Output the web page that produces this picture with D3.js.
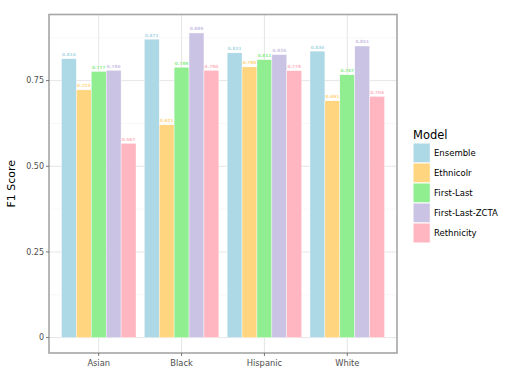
<!DOCTYPE html>
<html>
<head>
<meta charset="utf-8">
<script src="https://cdn.jsdelivr.net/npm/d3@7"></script>
<style>
  body { margin: 0; background: #fff; }
  text { font-family: "DejaVu Sans", sans-serif; }
</style>
</head>
<body>
<div id="chart"></div>
<script>
// chart data
var groups = ["Asian", "Black", "Hispanic", "White"];
var models = ["Ensemble", "Ethnicolr", "First-Last", "First-Last-ZCTA", "Rethnicity"];
var colors = ["#add8e6", "#ffd580", "#90ee90", "#cbc3e3", "#ffb6c1"];
var ensemble = [0.814, 0.871, 0.831, 0.836];
var ethnicolr = [0.723, 0.621, 0.790, 0.691];
var firstLast = [0.777, 0.789, 0.811, 0.767];
var firstLastZcta = [0.780, 0.889, 0.826, 0.851];
var rethnicity = [0.567, 0.780, 0.779, 0.704];
var yTicks = [0, 0.25, 0.5, 0.75];
var yMinor = [0.125, 0.375, 0.625, 0.875];

var series = [ensemble, ethnicolr, firstLast, firstLastZcta, rethnicity];
var rows = [];
groups.forEach(function (g, gi) {
    models.forEach(function (m, mi) {
	rows.push({ group: g, model: m, value: series[mi][gi] });
    });
});

var width = 512, height = 384;
// panel edges (window.top is taken, so prefixed names)
var pLeft = 49, pRight = 397, pTop = 14.5, pBottom = 353;

var svg = d3.select('#chart').append('svg').attr('width', width).attr('height', height);

var y = d3.scaleLinear().domain([-0.0449, 0.9429]).range([pBottom, pTop]);
// ggplot style discrete axis: centers 1..4, expand 0.6 on each side
var x = d3.scaleLinear().domain([0.4, 4.6]).range([pLeft, pRight]);
var unit = x(2) - x(1);
function cx(g) { return x(groups.indexOf(g) + 1); }
var inner = d3.scaleBand().domain(models).range([-0.45 * unit, 0.45 * unit]);
var color = d3.scaleOrdinal().domain(models).range(colors);

// grid
var grid = svg.append('g');
grid.selectAll('line.minor').data(yMinor).enter().append('line')
    .attr('x1', pLeft).attr('x2', pRight)
    .attr('y1', function (d) { return y(d); }).attr('y2', function (d) { return y(d); })
    .attr('stroke', '#f2f2f2').attr('stroke-width', 0.6);
grid.selectAll('line.major').data(yTicks).enter().append('line')
    .attr('x1', pLeft).attr('x2', pRight)
    .attr('y1', function (d) { return y(d); }).attr('y2', function (d) { return y(d); })
    .attr('stroke', '#e6e6e6').attr('stroke-width', 1);
grid.selectAll('line.vert').data(groups).enter().append('line')
    .attr('x1', cx).attr('x2', cx)
    .attr('y1', pTop).attr('y2', pBottom)
    .attr('stroke', '#e6e6e6').attr('stroke-width', 1);

// bars
svg.append('g').selectAll('rect').data(rows).enter().append('rect')
    .attr('x', function (d) { return cx(d.group) + inner(d.model); })
    .attr('width', inner.bandwidth())
    .attr('y', function (d) { return y(d.value); })
    .attr('height', function (d) { return y(0) - y(d.value); })
    .attr('fill', function (d) { return color(d.model); })
    .attr('stroke', '#ffffff').attr('stroke-width', 0.4);

// value labels
svg.append('g').selectAll('text').data(rows).enter().append('text')
    .attr('x', function (d) { return cx(d.group) + inner(d.model) + inner.bandwidth() / 2; })
    .attr('y', function (d) { return y(d.value) - 2.5; })
    .attr('text-anchor', 'middle')
    .attr('font-size', 4.3).attr('font-weight', 'bold')
    .attr('fill', function (d) { return color(d.model); })
    .text(function (d) { return d.value.toFixed(3); });

// panel border
svg.append('rect').attr('x', pLeft).attr('y', pTop)
    .attr('width', pRight - pLeft).attr('height', pBottom - pTop)
    .attr('fill', 'none').attr('stroke', '#a6a6a6').attr('stroke-width', 1.6);

// y axis
var yAxis = svg.append('g');
yAxis.selectAll('line').data(yTicks).enter().append('line')
    .attr('x1', pLeft - 3).attr('x2', pLeft)
    .attr('y1', function (d) { return y(d); }).attr('y2', function (d) { return y(d); })
    .attr('stroke', '#555').attr('stroke-width', 0.8);
yAxis.selectAll('text').data(yTicks).enter().append('text')
    .attr('x', pLeft - 5).attr('y', function (d) { return y(d); })
    .attr('dy', '0.35em').attr('text-anchor', 'end')
    .attr('font-size', 8).attr('fill', '#4d4d4d')
    .text(function (d) { return d === 0 ? '0' : d.toFixed(2); });

// x axis
var xAxis = svg.append('g');
xAxis.selectAll('line').data(groups).enter().append('line')
    .attr('x1', cx).attr('x2', cx)
    .attr('y1', pBottom).attr('y2', pBottom + 3)
    .attr('stroke', '#555').attr('stroke-width', 0.8);
xAxis.selectAll('text').data(groups).enter().append('text')
    .attr('x', cx).attr('y', pBottom + 13)
    .attr('text-anchor', 'middle')
    .attr('font-size', 8.3).attr('fill', '#4d4d4d')
    .text(function (d) { return d; });

// y title
svg.append('text')
    .attr('transform', 'translate(15,' + ((pTop + pBottom) / 2) + ') rotate(-90)')
    .attr('text-anchor', 'middle')
    .attr('font-size', 11).attr('fill', '#000')
    .text('F1 Score');

// legend
var lg = svg.append('g').attr('transform', 'translate(413,0)');
lg.append('text').attr('x', 0).attr('y', 139)
    .attr('font-size', 11.5).attr('fill', '#000').text('Model');
var key = lg.selectAll('g.key').data(models).enter().append('g')
    .attr('transform', function (d, i) { return 'translate(0,' + (143 + i * 20) + ')'; });
key.append('rect').attr('width', 17.3).attr('height', 20)
    .attr('fill', function (d) { return color(d); })
    .attr('stroke', '#fff').attr('stroke-width', 1);
key.append('text').attr('x', 21).attr('y', 10).attr('dy', '0.35em')
    .attr('font-size', 8.5).attr('fill', '#000')
    .text(function (d) { return d; });
</script>
</body>
</html>
